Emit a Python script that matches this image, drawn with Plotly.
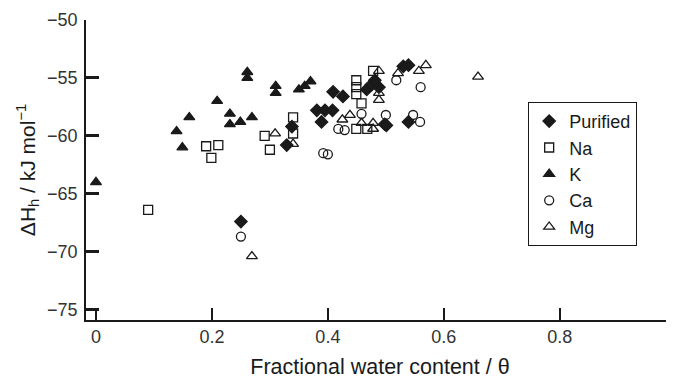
import plotly.graph_objects as go

# ---- data ----
pur_x = [0.250, 0.329, 0.338, 0.381, 0.395, 0.408, 0.389, 0.409, 0.426, 0.467,
         0.475, 0.481, 0.488, 0.498, 0.501, 0.530, 0.539, 0.539]
pur_y = [-67.4, -60.8, -59.2, -57.8, -57.8, -57.8, -58.8, -56.2, -56.6, -56.0,
         -55.6, -55.2, -55.8, -59.0, -59.1, -54.0, -53.9, -58.8]

na_x = [0.090, 0.190, 0.211, 0.199, 0.291, 0.300, 0.340, 0.340, 0.449, 0.449,
        0.449, 0.458, 0.478, 0.449, 0.468]
na_y = [-66.4, -60.9, -60.8, -61.9, -60.0, -61.2, -58.4, -59.8, -55.2, -55.8,
        -56.4, -57.2, -54.4, -59.4, -59.4]

k_x = [0.000, 0.139, 0.149, 0.161, 0.209, 0.231, 0.231, 0.249, 0.269, 0.261,
       0.261, 0.310, 0.310, 0.350, 0.360, 0.370]
k_y = [-64.0, -59.6, -61.0, -58.4, -57.0, -58.1, -59.0, -58.8, -58.4, -54.5,
       -55.0, -55.7, -56.3, -56.0, -55.7, -55.3]

ca_x = [0.250, 0.392, 0.400, 0.418, 0.429, 0.458, 0.500, 0.518, 0.547, 0.559,
        0.560]
ca_y = [-68.7, -61.5, -61.6, -59.4, -59.5, -58.1, -58.2, -55.2, -58.2, -58.8,
        -55.8]

mg_x = [0.269, 0.309, 0.340, 0.438, 0.458, 0.478, 0.478, 0.488, 0.488, 0.488,
        0.521, 0.557, 0.569, 0.659, 0.425]
mg_y = [-70.4, -59.8, -60.7, -58.2, -58.9, -58.9, -59.4, -56.3, -56.9, -54.4,
        -54.6, -54.4, -53.9, -54.9, -58.6]

x_ticks = [0, 0.2, 0.4, 0.6, 0.8]
x_tick_text = ["0", "0.2", "0.4", "0.6", "0.8"]
y_ticks = [-50, -55, -60, -65, -70, -75]

FONT = "Liberation Sans, Arial, sans-serif"
INK = "#1a1a1a"

fig = go.Figure()

def add(name, xs, ys, symbol, size, filled):
    fig.add_trace(go.Scatter(
        x=xs, y=ys, mode="markers", name=name,
        marker=dict(symbol=symbol, size=size,
                    color=INK if filled else "rgba(255,255,255,0)",
                    line=dict(color=INK, width=1.3)),
    ))

add("Purified", pur_x, pur_y, "diamond", 9.5, True)
add("Na", na_x, na_y, "square", 9, False)
add("K", k_x, k_y, "triangle-up", 9.5, True)
add("Ca", ca_x, ca_y, "circle", 9, False)
add("Mg", mg_x, mg_y, "triangle-up", 9.5, False)

# the page body has an 8px default margin, so the figure is drawn 8px smaller
fig.update_layout(
    width=666, height=371,
    margin=dict(l=78, r=0, t=12, b=59),
    paper_bgcolor="white", plot_bgcolor="white",
    font=dict(family=FONT, size=17, color=INK),
    showlegend=True,
    legend=dict(x=0.752, y=0.727, xanchor="left", yanchor="top",
                bordercolor=INK, borderwidth=1, bgcolor="white",
                font=dict(size=18, family=FONT, color=INK),
                entrywidth=102, entrywidthmode="pixels",
                itemsizing="trace"),
    xaxis=dict(range=[-0.0172, 0.997], tickmode="array",
               tickvals=x_ticks, ticktext=x_tick_text, automargin=False,
               ticks="inside", ticklen=12, tickwidth=2, tickcolor=INK,
               showline=True, linecolor=INK, linewidth=1.5,
               showgrid=False, zeroline=False, ticklabelstandoff=0,
               tickfont=dict(size=18, family=FONT, color="#333"),
               title=dict(text="Fractional water content / θ",
                          font=dict(size=21.5, family=FONT, color=INK),
                          standoff=16)),
    yaxis=dict(range=[-75.9, -50], tickmode="array", tickvals=y_ticks,
               automargin=False, ticklabelstandoff=3,
               ticks="inside", ticklen=13, tickwidth=2.5, tickcolor=INK,
               showline=True, linecolor=INK, linewidth=1.5,
               showgrid=False, zeroline=False,
               tickfont=dict(size=18, family=FONT, color="#333"),
               title=dict(text="ΔH<sub>h</sub> / kJ mol<sup>−1</sup>",
                          font=dict(size=21, family=FONT, color=INK),
                          standoff=6)),
)

fig.write_html("out.html")
